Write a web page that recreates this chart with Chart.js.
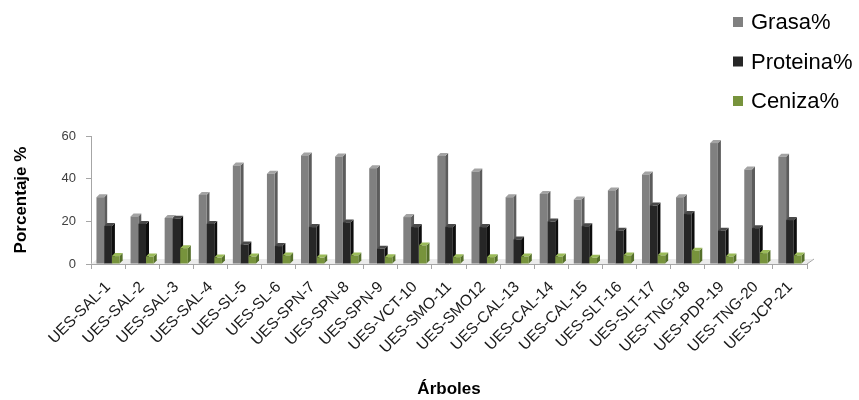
<!DOCTYPE html>
<html><head><meta charset="utf-8">
<script src="https://cdn.jsdelivr.net/npm/chart.js@4.4.1/dist/chart.umd.min.js"></script>
<style>html,body{margin:0;padding:0;background:#fff}#wrap{width:859px;height:400px;position:relative}</style>
</head><body><div id="wrap"><canvas id="c" width="859" height="400"></canvas></div>
<script>
const categories = ['UES-SAL-1','UES-SAL-2','UES-SAL-3','UES-SAL-4','UES-SL-5','UES-SL-6','UES-SPN-7','UES-SPN-8','UES-SPN-9','UES-VCT-10','UES-SMO-11','UES-SMO12','UES-CAL-13','UES-CAL-14','UES-CAL-15','UES-SLT-16','UES-SLT-17','UES-TNG-18','UES-PDP-19','UES-TNG-20','UES-JCP-21'];
const grasa = [31.3, 22.3, 21.6, 32.4, 46.2, 42.3, 50.9, 50.4, 44.9, 22.0, 50.6, 43.4, 31.3, 32.8, 30.2, 34.5, 42.0, 31.3, 56.7, 44.3, 50.3];
const proteina = [17.8, 18.8, 21.2, 18.8, 9.1, 8.4, 17.3, 19.5, 7.1, 17.3, 17.3, 17.3, 11.5, 19.9, 17.7, 15.6, 27.4, 23.4, 15.6, 16.8, 20.6];
const ceniza = [3.7, 3.5, 7.4, 3.0, 3.5, 4.0, 3.0, 4.0, 3.2, 8.7, 3.2, 3.2, 3.5, 3.5, 2.9, 4.0, 4.0, 6.2, 3.5, 5.1, 4.0];
const seriesNames = ['Grasa%', 'Proteina%', 'Ceniza%'];
const yTicks = [0, 20, 40, 60];

const FONT = '"Liberation Sans", Arial, sans-serif';
const DEPTH = 3;

const bar3d = {
  id: 'bar3d',
  beforeDatasetsDraw(chart) {
    const ctx = chart.ctx;
    const a = chart.chartArea;
    ctx.save();
    ctx.fillStyle = '#ececec';
    ctx.beginPath();
    ctx.moveTo(a.left, a.bottom);
    ctx.lineTo(a.left + 6, a.bottom - 5);
    ctx.lineTo(a.right + 6, a.bottom - 5);
    ctx.lineTo(a.right, a.bottom);
    ctx.closePath();
    ctx.fill();
    ctx.strokeStyle = '#a6a6a6';
    ctx.lineWidth = 1;
    ctx.beginPath();
    ctx.moveTo(a.right, a.bottom);
    ctx.lineTo(a.right + 7, a.bottom - 5);
    ctx.stroke();
    const n = chart.data.labels.length;
    for (let j = 0; j < n; j++) {
      chart.data.datasets.forEach((ds, i) => {
        const el = chart.getDatasetMeta(i).data[j];
        if (!el) return;
        const {x, y, base, width} = el.getProps(['x', 'y', 'base', 'width'], true);
        const l = x - width / 2, r = x + width / 2, d = DEPTH;
        ctx.fillStyle = ds.sideColor;
        ctx.beginPath();
        ctx.moveTo(r, y); ctx.lineTo(r + d, y - d); ctx.lineTo(r + d, base - d); ctx.lineTo(r, base);
        ctx.closePath(); ctx.fill();
        ctx.fillStyle = ds.topColor;
        ctx.beginPath();
        ctx.moveTo(l, y); ctx.lineTo(l + d, y - d); ctx.lineTo(r + d, y - d); ctx.lineTo(r, y);
        ctx.closePath(); ctx.fill();
      });
    }
    ctx.restore();
  }
};

const sideLegend = {
  id: 'sideLegend',
  afterDraw(chart) {
    const ctx = chart.ctx;
    ctx.save();
    ctx.font = '22px ' + FONT;
    ctx.textBaseline = 'middle';
    ctx.textAlign = 'left';
    chart.data.datasets.forEach((ds, i) => {
      const cy = 22 + i * 39.5;
      ctx.fillStyle = ds.backgroundColor;
      ctx.fillRect(733, cy - 5, 10, 10);
      ctx.fillStyle = '#000';
      ctx.fillText(ds.label, 751, cy + 1);
    });
    ctx.restore();
  }
};

new Chart(document.getElementById('c'), {
  type: 'bar',
  data: {
    labels: categories,
    datasets: [
      {label: seriesNames[0], data: grasa, backgroundColor: '#808080', sideColor: '#5c5c5c', topColor: '#a3a3a3'},
      {label: seriesNames[1], data: proteina, backgroundColor: '#262626', sideColor: '#0d0d0d', topColor: '#4a4a4a'},
      {label: seriesNames[2], data: ceniza, backgroundColor: '#77933c', sideColor: '#55702a', topColor: '#9bbb59'}
    ]
  },
  options: {
    responsive: false,
    animation: false,
    devicePixelRatio: 1,
    categoryPercentage: 0.68,
    barPercentage: 1,
    layout: {padding: {top: 136, right: 52, left: 0, bottom: 0}},
    plugins: {legend: {display: false}, tooltip: {enabled: false}},
    scales: {
      x: {
        grid: {display: true, drawOnChartArea: false, offset: true, tickLength: 5, color: '#a6a6a6'},
        border: {color: '#a6a6a6'},
        ticks: {maxRotation: 45, minRotation: 45, autoSkip: false, padding: 9, color: '#1a1a1a', font: {family: FONT, size: 15.5}},
        title: {display: true, text: 'Árboles', color: '#000', font: {family: FONT, size: 17, weight: 'bold'}, padding: {top: 0, bottom: 0}},
        afterFit: s => { s.height = 136; }
      },
      y: {
        min: 0, max: 60,
        afterBuildTicks: s => { s.ticks = yTicks.map(v => ({value: v})); },
        grid: {display: true, drawOnChartArea: false, tickLength: 5, color: '#a6a6a6'},
        border: {color: '#a6a6a6'},
        ticks: {padding: 10, color: '#404040', font: {family: FONT, size: 13}},
        title: {display: true, text: 'Porcentaje %', color: '#000', font: {family: FONT, size: 17, weight: 'bold'}, padding: {top: 11, bottom: 0}},
        afterFit: s => { s.width = 91; }
      }
    }
  },
  plugins: [bar3d, sideLegend]
});
</script></body></html>
